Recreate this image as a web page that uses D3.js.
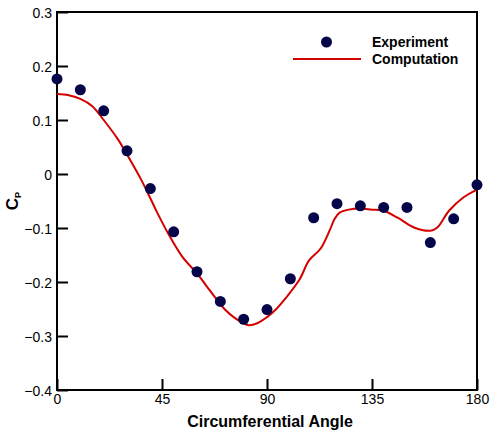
<!DOCTYPE html>
<html>
<head>
<meta charset="utf-8">
<script src="https://cdn.jsdelivr.net/npm/d3@7"></script>
<style>
  html, body { margin: 0; padding: 0; background: #fff; }
  svg { display: block; font-family: "Liberation Sans", Arial, Helvetica, sans-serif; }
</style>
</head>
<body>
<svg id="chart" width="490" height="434"></svg>
<script>
// Measured pressure coefficient at each circumferential angle
const expAngle = [0, 10, 20, 30, 40, 50, 60, 70, 80, 90, 100, 110, 120, 130, 140, 150, 160, 170, 180];
const expCp = [0.176, 0.156, 0.117, 0.043, -0.027, -0.107, -0.181, -0.236, -0.269, -0.251,
               -0.194, -0.081, -0.055, -0.059, -0.062, -0.062, -0.127, -0.083, -0.020];

// Computed pressure coefficient distribution
const compAngle = [0, 5, 10, 15, 20, 26, 30, 36, 40, 43, 48, 54, 60, 64, 68, 72, 76, 82, 86, 90,
                   94, 98, 104, 108, 113, 117, 119, 121, 125, 130, 135, 140, 146, 153, 160, 163, 168, 174, 180];
const compCp = [0.148, 0.146, 0.139, 0.126, 0.100, 0.065, 0.036, -0.010, -0.045, -0.072, -0.113,
                -0.155, -0.184, -0.207, -0.230, -0.251, -0.266, -0.280, -0.276, -0.265,
                -0.250, -0.230, -0.195, -0.160, -0.138, -0.103, -0.083, -0.072, -0.066, -0.064,
                -0.066, -0.068, -0.081, -0.099, -0.105, -0.099, -0.068, -0.044, -0.029];

const xTicks = [0, 45, 90, 135, 180];
const yTicks = [-0.4, -0.3, -0.2, -0.1, 0, 0.1, 0.2, 0.3];

const svg = d3.select("#chart");
const plotL = 57, plotR = 477, plotT = 12, plotB = 390;

const x = d3.scaleLinear().domain([0, 180]).range([plotL, plotR]);
const y = d3.scaleLinear().domain([-0.4, 0.3]).range([plotB, plotT]);

const fmtY = d => (d === 0 ? "0" : d3.format(".1f")(d));

// Left axis: ticks point inward
const yAxis = svg.append("g")
  .attr("transform", `translate(${plotL},0)`)
  .call(d3.axisLeft(y).tickValues(yTicks).tickSizeInner(-11).tickSizeOuter(0).tickPadding(5).tickFormat(fmtY));
yAxis.select(".domain").remove();
yAxis.selectAll("line").attr("stroke", "#000").attr("stroke-width", 2);
yAxis.selectAll("text").attr("font-size", 14).attr("fill", "#000").attr("dy", "0.36em");

// Bottom axis
const xAxis = svg.append("g")
  .attr("transform", `translate(0,${plotB})`)
  .call(d3.axisBottom(x).tickValues(xTicks).tickSizeInner(-11).tickSizeOuter(0).tickPadding(4).tickFormat(d3.format("d")));
xAxis.select(".domain").remove();
xAxis.selectAll("line").attr("stroke", "#000").attr("stroke-width", 2);
xAxis.selectAll("text").attr("font-size", 14).attr("fill", "#000");

// Plot frame
svg.append("rect")
  .attr("x", plotL).attr("y", plotT)
  .attr("width", plotR - plotL).attr("height", plotB - plotT)
  .attr("fill", "none").attr("stroke", "#000").attr("stroke-width", 2);

// Computation curve
const line = d3.line()
  .x((d, i) => x(compAngle[i]))
  .y((d, i) => y(compCp[i]))
  .curve(d3.curveCatmullRom.alpha(0.5));

svg.append("path")
  .datum(compCp)
  .attr("d", line)
  .attr("fill", "none")
  .attr("stroke", "#d40000")
  .attr("stroke-width", 2);

// Experiment markers
svg.append("g").selectAll("circle")
  .data(expCp)
  .join("circle")
  .attr("cx", (d, i) => x(expAngle[i]))
  .attr("cy", d => y(d))
  .attr("r", 5.5)
  .attr("fill", "#05054a");

// Legend
const legend = svg.append("g");
legend.append("circle").attr("cx", 326.5).attr("cy", 42).attr("r", 5.5).attr("fill", "#05054a");
legend.append("line").attr("x1", 293).attr("x2", 361).attr("y1", 59).attr("y2", 59)
  .attr("stroke", "#d40000").attr("stroke-width", 2);
legend.append("text").attr("x", 372).attr("y", 47).attr("font-size", 14).attr("font-weight", "bold")
  .text("Experiment");
legend.append("text").attr("x", 372).attr("y", 64).attr("font-size", 14).attr("font-weight", "bold")
  .text("Computation");

// Axis titles
svg.append("text")
  .attr("x", 270).attr("y", 427)
  .attr("text-anchor", "middle")
  .attr("font-size", 16).attr("font-weight", "bold")
  .text("Circumferential Angle");

const yTitle = svg.append("text")
  .attr("transform", "translate(18,201) rotate(-90)")
  .attr("text-anchor", "middle")
  .attr("font-weight", "bold");
yTitle.append("tspan").attr("font-size", 17).text("C");
yTitle.append("tspan").attr("font-size", 9).attr("dy", 3).text("P");
</script>
</body>
</html>
